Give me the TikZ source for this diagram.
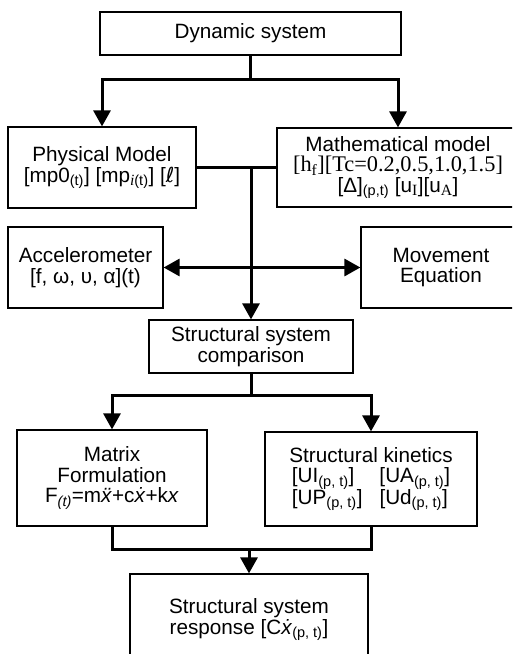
\documentclass[tikz,border=0pt]{standalone}
\usepackage{fontspec}
\setmainfont{Liberation Sans}
\newfontfamily\seriffont[Scale=1.08]{Liberation Serif}
\newfontfamily\symfont{DejaVu Sans}
\usetikzlibrary{arrows.meta}
\newcommand{\mysub}[1]{\textsubscript{#1}}
\begin{document}
\begin{tikzpicture}[x=1pt,y=-1pt,
  box/.style={draw, line width=1.2pt, inner sep=0pt, align=center,
    font=\fontsize{20.7}{20.5}\selectfont},
  conn/.style={line width=3pt},
  tip/.tip={Triangle[width=17pt,length=16pt]},
  arr/.style={conn, -tip},
]
\useasboundingbox (0,0) rectangle (512,654);
\clip (0,0) rectangle (512,654);

\node[box, minimum width=301pt, minimum height=43pt] (dyn) at (250.5,33.5) {Dynamic system};
\node[box, minimum width=188pt, minimum height=81pt] (phys) at (102,167.5)
  {Physical Model\\{[}mp0\mysub{(t)}] [mp\mysub{{\seriffont\itshape i}(t)}] [{\symfont ℓ}]};
\node[box, minimum width=242pt, minimum height=79pt] (math) at (398,167.5)
  {Mathematical model\\{\seriffont{[}h\mysub{f}][Tc=0.2,0.5,1.0,1.5]}\\{[}Δ]\mysub{(p,t)} [u\mysub{\seriffont I}][u\mysub{\seriffont A}]};
\node[box, minimum width=155pt, minimum height=81pt] (acc) at (85.5,267.5)
  {Accelerometer\\{[}f, ω, υ, α](t)};
\node[box, minimum width=160pt, minimum height=81pt] (mov) at (441,267.5)
  {Movement\\Equation};
\node[box, minimum width=204pt, minimum height=53pt] (comp) at (251,346.5)
  {Structural system\\comparison};
\node[box, minimum width=190pt, minimum height=96pt] (matrix) at (112,478)
  {Matrix\\Formulation\\F\mysub{\textit{(t)}}=m\textit{\"x}+c\textit{\.x}+k\textit{x}};
\node[box, minimum width=212pt, minimum height=94pt] (kin) at (371,479)
  {Structural kinetics\\\begin{tabular}[t]{@{}l@{\hspace{17pt}}l@{}}
    {[}UI\mysub{(p, t)}] & {[}UA\mysub{(p, t)}]\\
    {[}UP\mysub{(p, t)}] & {[}Ud\mysub{(p, t)}]
  \end{tabular}};
\node[box, minimum width=238pt, minimum height=91pt] (resp) at (249,619.5)
  {Structural system\\response [C\textit{\.x}\mysub{(p, t)}]};

\coordinate (t1) at (0,79);
\coordinate (t3) at (0,395);
\coordinate (t4) at (0,549);

\draw[arr] (dyn.south) -- (dyn.south |- t1) -| (phys.north);
\draw[arr] (dyn.south |- t1) -| (math.north);
\draw[conn] (phys.east) -- (math.west);
\draw[arr] (phys.east -| comp.north) -- (comp.north);
\draw[conn, tip-tip] (acc.east) -- (mov.west);
\draw[arr] (comp.south) -- (comp.south |- t3) -| (matrix.north);
\draw[arr] (comp.south |- t3) -| (kin.north);
\draw[conn] (matrix.south) |- (kin.south |- t4) -- (kin.south);
\draw[arr] (resp.north |- t4) -- (resp.north);
\end{tikzpicture}
\end{document}
